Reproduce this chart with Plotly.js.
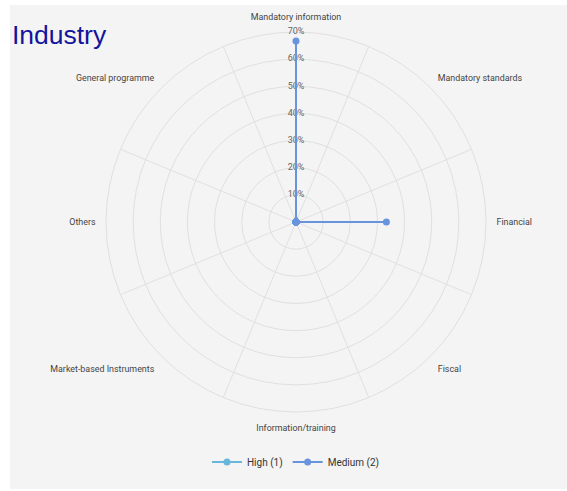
<!DOCTYPE html>
<html>
<head>
<meta charset="utf-8">
<script src="https://cdn.plot.ly/plotly-3.0.1.min.js"></script>
<style>html,body{margin:0;padding:0;background:#fff;}#chart{width:567px;height:491px;}</style>
</head>
<body>
<div id="chart"></div>
<script>
const categories = ["Mandatory information", "Mandatory standards", "Financial", "Fiscal",
  "Information/training", "Market-based Instruments", "Others", "General programme"];
const highValues = [0, 0, 0, 0, 0, 0, 0, 0];
const mediumValues = [66.7, 0, 33.3, 0, 0, 0, 0, 0];
const seriesNames = ["High (1)", "Medium (2)"];
const radialTicks = [0, 10, 20, 30, 40, 50, 60, 70];
const radialTickLabels = ["0", "10%", "20%", "30%", "40%", "50%", "60%", "70%"];
const gridAngles = [22.5, 67.5, 112.5, 157.5, 202.5, 247.5, 292.5, 337.5];

const gridCol = '#e0e0e0';
const traces = [
  { type: 'scatterpolar', subplot: 'polar', r: [0], theta: [0], mode: 'markers',
    marker: { opacity: 0 }, showlegend: false, hoverinfo: 'skip' },
  { type: 'scatterpolar', subplot: 'polar3', r: [0], theta: [categories[0]], mode: 'markers',
    marker: { opacity: 0 }, showlegend: false, hoverinfo: 'skip' },
  { type: 'scatterpolar', subplot: 'polar2', r: radialTicks,
    theta: radialTicks.map(() => categories[0]), mode: 'text', text: radialTickLabels,
    textfont: { family: 'Roboto, sans-serif', size: 9, color: '#666' },
    textposition: 'middle center', cliponaxis: false, showlegend: false, hoverinfo: 'skip' },
  { type: 'scatterpolar', subplot: 'polar2', name: seriesNames[0], r: highValues, theta: categories,
    mode: 'lines+markers', line: { color: '#67b7dc', width: 2 }, marker: { color: '#67b7dc', size: 7 },
    cliponaxis: false },
  { type: 'scatterpolar', subplot: 'polar2', name: seriesNames[1], r: mediumValues, theta: categories,
    mode: 'lines+markers', line: { color: '#6794dc', width: 2 }, marker: { color: '#6794dc', size: 7 },
    cliponaxis: false }
];

const dom = { x: [0.18695, 0.85714], y: [0.1609, 0.9348] };
const labelDom = { x: [0.16931, 0.87478], y: [0.14053, 0.95519] };
const layout = {
  width: 567, height: 491,
  margin: { l: 0, r: 0, t: 0, b: 0 },
  paper_bgcolor: '#ffffff',
  font: { family: 'Roboto, sans-serif', size: 9, color: '#444' },
  title: { text: 'Industry', x: 0.021, xanchor: 'left', xref: 'paper', y: 1 - 35 / 491, yanchor: 'middle',
    yref: 'paper', font: { family: 'Liberation Sans, Arial, sans-serif', size: 26.5, color: '#14149c' } },
  shapes: [{ type: 'rect', xref: 'paper', yref: 'paper', x0: 10 / 567, x1: 1, y0: 2 / 491, y1: 1 - 5 / 491,
    fillcolor: '#f4f4f4', line: { width: 0 }, layer: 'below' }],
  polar: {
    domain: dom, bgcolor: 'rgba(0,0,0,0)',
    radialaxis: { range: [0, 70], tickvals: radialTicks, showticklabels: false, ticks: '',
      showline: false, gridcolor: gridCol, gridwidth: 1 },
    angularaxis: { type: 'linear', thetaunit: 'degrees', rotation: 90, direction: 'clockwise',
      tickvals: gridAngles, showticklabels: false, ticks: '', gridcolor: gridCol,
      showline: true, linecolor: gridCol, linewidth: 1 }
  },
  polar2: {
    domain: dom, bgcolor: 'rgba(0,0,0,0)',
    radialaxis: { range: [0, 70], visible: false },
    angularaxis: { type: 'category', categoryorder: 'array', categoryarray: categories,
      rotation: 90, direction: 'clockwise', showgrid: false, showline: false, ticks: '',
      showticklabels: false }
  },
  polar3: {
    domain: labelDom, bgcolor: 'rgba(0,0,0,0)',
    radialaxis: { range: [0, 70], visible: false },
    angularaxis: { type: 'category', categoryorder: 'array', categoryarray: categories,
      rotation: 90, direction: 'clockwise', showgrid: false, showline: false, ticks: '',
      tickfont: { family: 'Roboto, sans-serif', size: 8.9, color: '#444' } }
  },
  legend: { orientation: 'h', x: 0.522, xanchor: 'center', y: 1 - 462 / 491, yanchor: 'middle',
    bgcolor: 'rgba(0,0,0,0)', font: { family: 'Roboto, sans-serif', size: 10, color: '#333' },
    itemwidth: 30 },
  showlegend: true
};

Plotly.newPlot('chart', traces, layout, { displayModeBar: false, staticPlot: true });
</script>
</body>
</html>
